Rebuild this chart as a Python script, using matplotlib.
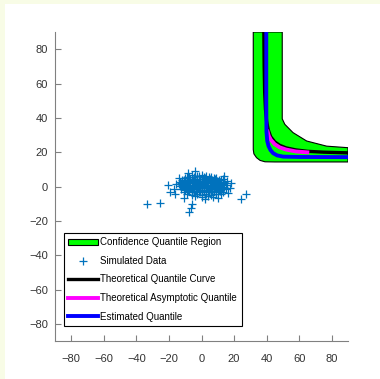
import matplotlib
matplotlib.use("Agg")
import matplotlib.pyplot as plt
from matplotlib.patches import Polygon, Rectangle
from matplotlib.lines import Line2D

# ---- data ----
region_outer_x = [31.8, 31.8, 32.2, 33.8, 36.0, 39.0, 45.0, 90.0]
region_outer_y = [90.0, 21.5, 19.0, 16.8, 15.2, 14.4, 14.3, 14.3]
region_inner_x = [90.0, 76.9, 64.6, 56.2, 51.2, 49.6, 49.6]
region_inner_y = [22.6, 23.5, 26.5, 31.4, 36.2, 39.4, 90.0]

theo_x = [38.3, 38.5, 38.8, 39.3, 40.0, 41.0, 42.5, 45.0, 48.0, 52.0, 58.0, 65.0, 75.0, 90.0]
theo_y = [90.0, 70.0, 55.0, 45.0, 38.0, 33.0, 29.0, 26.0, 24.0, 22.5, 21.3, 20.5, 20.0, 19.6]

asym_x = [40.6, 41.3, 42.6, 45.0, 48.0, 52.0, 58.0, 65.0]
asym_y = [32.0, 29.5, 27.2, 24.6, 22.8, 21.5, 20.4, 19.9]

est_x = [39.8, 39.8, 39.9, 40.4, 41.2, 42.4, 44.0, 46.5, 50.2, 60.0, 90.0]
est_y = [90.0, 50.0, 32.0, 26.5, 23.5, 21.2, 19.4, 18.1, 17.4, 17.2, 17.1]

sim_x = [-6, -3, 0, 3, 6, -9, 9,
         -12, -10, -7, -4, -1, 2, 5, 8, 11, 13,
         -13, -11, -8.5, -6, -3.5, -1, 1.5, 4, 6.5, 9, 11.5, 14,
         -14, -12, -9.5, -7, -4.5, -2, 0.5, 3, 5.5, 8, 10.5, 13, 15.5,
         -13.5, -11, -8.5, -6, -3.5, -1, 1.5, 4, 6.5, 9, 11.5, 14,
         -12.5, -10, -7.5, -5, -2.5, 0, 2.5, 5, 7.5, 10, 12.5, 15,
         -11, -8.5, -6, -3.5, -1, 1.5, 4, 6.5, 9, 11.5, 13.5,
         -9, -6, -3, 0, 3, 6, 9, 12,
         -4, 0, 4, 7,
         -7.5, -4.5, -1.5, 1.5, 4.5, 7.5,
         -11, -8, -5.5, -2.5, 0.5, 3.5, 6.5, 9.5, 12,
         -12.5, -10, -7.5, -5, -2, 1, 3.5, 6, 8.5, 11, 13.5,
         -12, -9.5, -7, -4.5, -2, 0.5, 3, 5.5, 8, 10.5, 13,
         -10, -7.5, -5, -2.5, 0, 2.5, 5, 7.5, 10, 12.5,
         -7.5, -4.5, -1.5, 1.5, 4.5, 7.5, 10.5,
         -33.5, -25.8, -20.5, -19.3, -15.8, -17, -7.4, -5.8, -6.5, -8.2, -4,
         24, 27.3, 15.8, 17.5, 16.5, 18, -16, -11, 10, 2, 14, -14]
sim_y = [6.5, 6.0, 6.8, 6.2, 5.8, 5.5, 5.2,
         4.0, 4.8, 4.3, 4.6, 4.1, 4.7, 4.2, 4.5, 3.9, 4.4,
         2.6, 3.1, 2.8, 3.3, 2.5, 3.2, 2.7, 3.4, 2.9, 3.1, 2.4, 2.8,
         1.2, 1.8, 1.4, 1.9, 1.1, 1.6, 1.3, 1.9, 1.0, 1.7, 1.2, 1.5, 1.0,
         0.2, -0.3, 0.4, -0.2, 0.3, -0.4, 0.1, -0.3, 0.5, -0.1, 0.3, -0.4,
         -1.4, -1.9, -1.2, -1.7, -1.3, -1.8, -1.1, -1.6, -1.3, -1.9, -1.2, -1.6,
         -3.2, -2.7, -3.3, -2.8, -3.1, -2.6, -3.4, -2.9, -3.2, -2.7, -3.0,
         -4.3, -4.8, -4.4, -4.9, -4.2, -4.7, -4.4, -4.1,
         -5.8, -6.2, -5.6, -6.0,
         5.6, 5.3, 5.9, 5.4, 5.7, 5.0,
         3.7, 3.5, 3.9, 3.6, 3.3, 3.8, 3.7, 3.4, 3.6,
         2.0, 2.3, 2.1, 2.4, 2.2, 2.0, 2.5, 2.2, 2.3, 2.1, 2.0,
         0.9, 0.7, 1.0, 0.6, 0.8, 0.6, 1.0, 0.7, 0.9, 0.6, 0.8,
         -0.8, -0.6, -0.9, -0.7, -0.8, -0.6, -0.9, -0.7, -0.8, -0.6,
         -2.2, -2.4, -2.1, -2.3, -2.2, -2.4, -2.1,
         -10, -9.4, 0.6, -3.3, 1.2, -1.5, -15, -10, -12.5, 8, 9,
         -7.2, -4.3, 3.1, -1, -4, 2, -4.5, -6.5, -6.5, -7.5, 6, 5]

ticks = [-80, -60, -40, -20, 0, 20, 40, 60, 80]
legend_labels = ["Confidence Quantile Region", "Simulated Data",
                 "Theoretical Quantile Curve", "Theoretical Asymptotic Quantile",
                 "Estimated Quantile"]

plt.rcParams['font.family'] = ['Liberation Sans Narrow', 'Liberation Sans', 'DejaVu Sans']

fig = plt.figure(figsize=(3.8, 3.79), dpi=100, facecolor='white')
# pale border strips of the screenshot
fig.patches.append(Rectangle((0, 0), 5/380, 1, transform=fig.transFigure,
                             facecolor='#f8fce6', edgecolor='none', zorder=-10))
fig.patches.append(Rectangle((0, 1 - 4/379), 1, 4/379, transform=fig.transFigure,
                             facecolor='#f8fce6', edgecolor='none', zorder=-10))

ax = fig.add_axes([55/380, 1 - 341/379, 293/380, 309/379])

poly = Polygon(list(zip(region_outer_x + region_inner_x, region_outer_y + region_inner_y)),
               closed=True, facecolor='#00ff00', edgecolor='black', linewidth=0.8, zorder=1)
ax.add_patch(poly)

ax.plot(sim_x, sim_y, '+', color='#0072BD', markersize=5.5, markeredgewidth=0.9, zorder=2)
ax.plot(theo_x, theo_y, color='black', linewidth=2.4, zorder=3)
ax.plot(asym_x, asym_y, color='#ff00ff', linewidth=2.8, zorder=4)
ax.plot(est_x, est_y, color='#0000ff', linewidth=2.8, zorder=5)

ax.set_xlim(-90, 90)
ax.set_ylim(-90, 90)
ax.set_xticks(ticks)
ax.set_yticks(ticks)
ax.spines['top'].set_visible(False)
ax.spines['right'].set_visible(False)
for s in ('left', 'bottom'):
    ax.spines[s].set_color('#808080')
    ax.spines[s].set_linewidth(0.8)
ax.tick_params(direction='in', length=4, width=0.8, color='#808080',
               labelsize=8, labelcolor='#333333')
ax.tick_params(axis='x', pad=9)
ax.tick_params(axis='y', pad=5)

handles = [
    Rectangle((0, 0), 1, 1, facecolor='#00ff00', edgecolor='black', linewidth=0.8),
    Line2D([], [], linestyle='none', marker='+', color='#0072BD', markersize=5.5, markeredgewidth=0.9),
    Line2D([], [], color='black', linewidth=2.4),
    Line2D([], [], color='#ff00ff', linewidth=2.8),
    Line2D([], [], color='#0000ff', linewidth=2.8),
]
leg = ax.legend(handles, legend_labels, loc='upper left',
                bbox_to_anchor=((64 - 55) / 293, (341 - 233) / 309),
                fontsize=7, frameon=True, fancybox=False, framealpha=1,
                edgecolor='black', borderpad=0.45, labelspacing=0.88,
                handlelength=3.0, handletextpad=0.3, borderaxespad=0)
leg.get_frame().set_linewidth(0.8)

fig.savefig('out.png', dpi=100, facecolor='white')
